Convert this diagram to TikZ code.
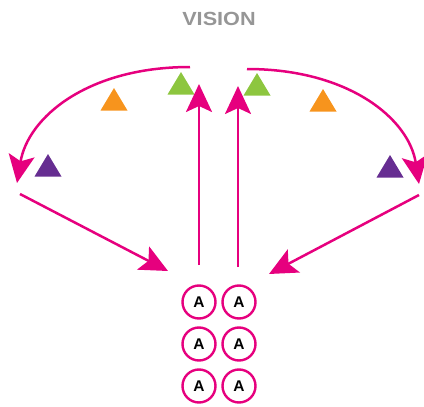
\documentclass[tikz,border=0pt]{standalone}
\usepackage{fontspec}
\setmainfont{Liberation Sans}
\usetikzlibrary{arrows.meta}
\definecolor{mag}{RGB}{230,0,126}
\definecolor{tgreen}{RGB}{141,198,63}
\definecolor{torange}{RGB}{247,148,29}
\definecolor{tpurple}{RGB}{102,45,145}
\definecolor{vgray}{RGB}{150,150,150}
\newcommand\mytri[3]{\fill[#3] (#1,#2) -- ++(-13.5,22.5) -- ++(27,0) -- cycle;}
\begin{document}
\begin{tikzpicture}[x=1pt,y=-1pt,
  arr/.style={draw=mag,line width=2.5pt,-{Stealth[length=28pt,width=26pt,inset=6pt]}},
  ring/.style={circle,draw=mag,line width=2.4pt,minimum size=33pt,inner sep=0pt,
    font=\fontsize{15.5}{15.5}\selectfont\bfseries},
  title/.style={text=vgray,font=\fontsize{19}{19}\selectfont\bfseries,xscale=1.14}]
\useasboundingbox (0,0) rectangle (424,407);
\node[title] (vision) at (219,19) {VISION};
% triangles
\mytri{181}{72}{tgreen}
\mytri{114}{88}{torange}
\mytri{48}{154}{tpurple}
\mytri{257}{73}{tgreen}
\mytri{323}{89}{torange}
\mytri{390}{155}{tpurple}
% circles
\foreach \r/\y in {1/302,2/344,3/386}{
  \node[ring] (L\r) at (199,\y) {A};
  \node[ring] (R\r) at (239,\y) {A};
}
% coordinates
\coordinate (arcLs) at (190,67);
\coordinate (arcLe) at (17,183);
\coordinate (arcRs) at (247,69);
\coordinate (arcRe) at (419,184);
\coordinate (upLb) at (199,265);
\coordinate (upLt) at (199,84);
\coordinate (upRb) at (238,267);
\coordinate (upRt) at (238,86);
\coordinate (dgLs) at (20,194);
\coordinate (dgLe) at (168,271);
\coordinate (dgRs) at (419,195);
\coordinate (dgRe) at (269,274);
% arrows
\draw[arr] (arcLs) .. controls (88,67) and (28,117) .. (arcLe);
\draw[arr] (arcRs) .. controls (349,69) and (409,119) .. (arcRe);
\draw[arr] (upLb) -- (upLt);
\draw[arr] (upRb) -- (upRt);
\draw[arr] (dgLs) -- (dgLe);
\draw[arr] (dgRs) -- (dgRe);
\end{tikzpicture}
\end{document}
